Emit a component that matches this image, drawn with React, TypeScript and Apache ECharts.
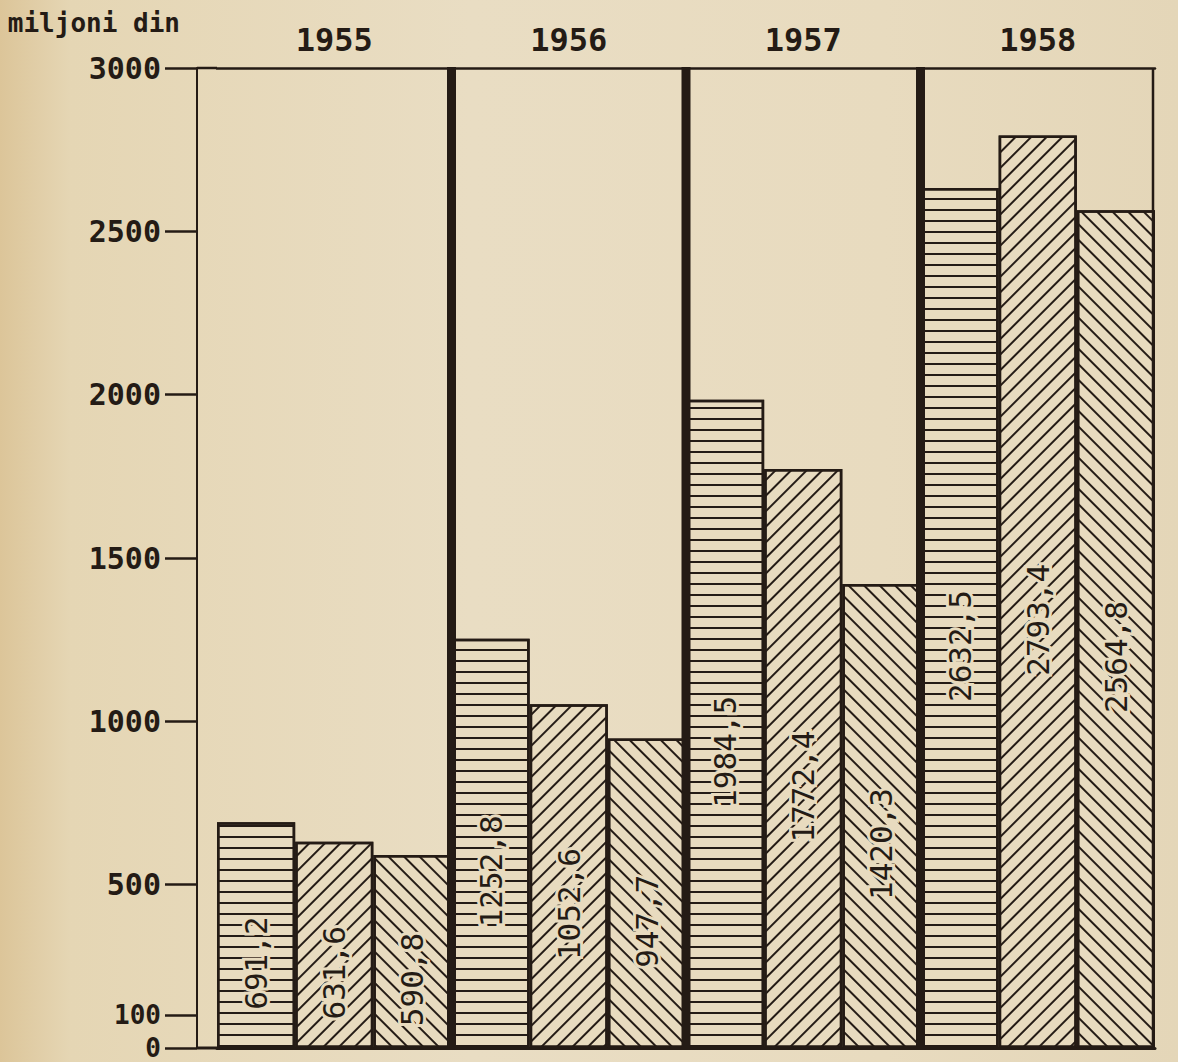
import React, { useEffect, useRef } from 'react';
import * as echarts from 'echarts';

// ---- data ----
const years = ['1955', '1956', '1957', '1958'];
const seriesHoriz = [691.2, 1252.8, 1984.5, 2632.5];
const seriesRising = [631.6, 1052.6, 1772.4, 2793.4];
const seriesFalling = [590.8, 947.7, 1420.3, 2564.8];
const yTicks = [0, 100, 500, 1000, 1500, 2000, 2500, 3000];
const yMax = 3000;
const yUnit = 'miljoni din';

// ---- layout / style ----
const W = 1178;
const H = 1062;
const GRID = { left: 217, right: 23, top: 68, bottom: 14 };
const AXIS_OFFSET = 20;
const TICK_LEN = 32;
const INK = '#241b15';
const PAPER = '#e8dbbf';
const FONT = '"DejaVu Sans Mono", "Liberation Mono", monospace';

const fmt = (p: any) => String(p.value).replace('.', ',');

const makeSeries = (name: string, data: number[], rotation: number) => ({
  type: 'bar',
  name,
  data,
  xAxisIndex: 0,
  barGap: '0%',
  barCategoryGap: '0%',
  itemStyle: {
    color: PAPER,
    borderColor: INK,
    borderWidth: 2.5,
    decal: {
      symbol: 'rect',
      symbolSize: 1,
      dashArrayX: [1, 0],
      dashArrayY: [2, 9],
      rotation,
      color: INK,
    },
  },
  label: {
    show: true,
    position: 'inside',
    rotate: 90,
    offset: [-28, 0],
    formatter: fmt,
    fontFamily: FONT,
    fontSize: 31,
    color: INK,
    textBorderColor: PAPER,
    textBorderWidth: 6,
  },
});

export default function App() {
  const ref = useRef<HTMLDivElement>(null);

  useEffect(() => {
    document.body.style.margin = '0';
    document.body.style.background = PAPER;
    if (!ref.current) return;
    const chart = echarts.init(ref.current, undefined, { renderer: 'svg' });

    const option: any = {
      animation: false,
      backgroundColor: 'transparent',
      grid: { ...GRID, containLabel: false },
      xAxis: [
        {
          type: 'category',
          data: years,
          position: 'bottom',
          axisLine: { show: true, lineStyle: { color: INK, width: 3 } },
          axisTick: { show: false },
          axisLabel: { show: false },
          splitLine: { show: false },
        },
        {
          type: 'category',
          data: years,
          position: 'top',
          axisLine: { show: true, lineStyle: { color: INK, width: 2.5 } },
          axisTick: { show: false },
          axisLabel: {
            show: true,
            fontFamily: FONT,
            fontWeight: 'bold',
            fontSize: 32,
            color: INK,
            margin: 12,
          },
          splitLine: { show: false },
        },
      ],
      yAxis: {
        type: 'value',
        min: 0,
        max: yMax,
        offset: AXIS_OFFSET,
        name: yUnit,
        nameLocation: 'end',
        nameGap: 32,
        nameTextStyle: {
          fontFamily: FONT,
          fontWeight: 'bold',
          fontSize: 26,
          color: INK,
          align: 'right',
          padding: [0, 17, 0, 0],
        },
        axisLine: { show: true, lineStyle: { color: INK, width: 2 } },
        axisTick: {
          show: true,
          length: TICK_LEN,
          customValues: yTicks,
          lineStyle: { color: INK, width: 2.5 },
        },
        axisLabel: {
          customValues: yTicks,
          formatter: (v: number) => (v < 500 ? `{s|${v}}` : String(v)),
          fontFamily: FONT,
          fontWeight: 'bold',
          fontSize: 30,
          lineHeight: 22,
          color: INK,
          margin: TICK_LEN + 4,
          rich: {
            s: {
              fontFamily: FONT,
              fontWeight: 'bold',
              fontSize: 26,
              lineHeight: 20,
              color: INK,
            },
          },
        },
        splitLine: { show: false },
      },
      series: [
        makeSeries('a', seriesHoriz, 0),
        makeSeries('b', seriesRising, -Math.PI / 4),
        makeSeries('c', seriesFalling, Math.PI / 4),
      ],
    };
    chart.setOption(option);

    // frame & group separators from the axes' own scales
    const xAt = (i: number) => chart.convertToPixel({ xAxisIndex: 0 }, years[i]) as number;
    const yAt = (v: number) => chart.convertToPixel({ yAxisIndex: 0 }, v) as number;
    const half = (xAt(1) - xAt(0)) / 2;
    const yTop = yAt(yMax);
    const yBase = yAt(0);
    const rightX = xAt(years.length - 1) + half;
    const axisX = GRID.left - AXIS_OFFSET;

    const graphics: any[] = [];
    for (let i = 1; i < years.length; i++) {
      const bx = xAt(i) - half;
      graphics.push({
        type: 'line',
        z: 100,
        shape: { x1: bx, y1: yTop - 1, x2: bx, y2: yBase },
        style: { stroke: INK, lineWidth: 9 },
      });
    }
    graphics.push({
      type: 'line',
      z: 100,
      shape: { x1: rightX - 2, y1: yTop, x2: rightX - 2, y2: yBase },
      style: { stroke: INK, lineWidth: 2.5 },
    });
    graphics.push({
      type: 'line',
      z: 100,
      shape: { x1: axisX, y1: yTop, x2: GRID.left, y2: yTop },
      style: { stroke: INK, lineWidth: 2.5 },
    });
    graphics.push({
      type: 'line',
      z: 100,
      shape: { x1: axisX, y1: yBase, x2: GRID.left, y2: yBase },
      style: { stroke: INK, lineWidth: 3 },
    });
    chart.setOption({ graphic: graphics });

    return () => chart.dispose();
  }, []);

  return (
    <div
      ref={ref}
      style={{
        width: W,
        height: H,
        background:
          'linear-gradient(90deg, #dcc599 0%, #e5d6b4 6%, #e9ddc3 40%, #e8dbbf 75%, #e4d6b8 100%)',
      }}
    />
  );
}
